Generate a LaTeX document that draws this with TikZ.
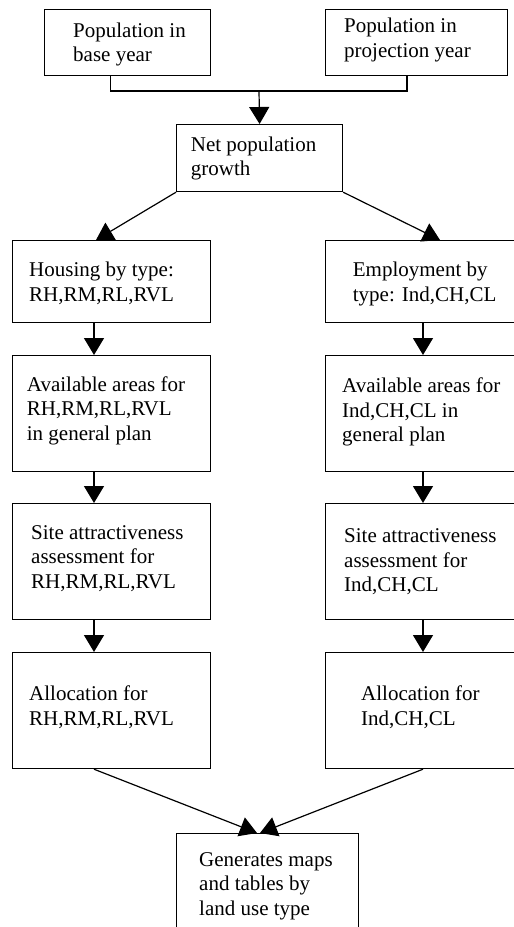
\documentclass[tikz,border=0pt]{standalone}
\usepackage{fontspec}
\setmainfont{Liberation Serif}
\usetikzlibrary{arrows.meta,calc}
\begin{document}
\begin{tikzpicture}[x=1pt,y=-1pt,
  box/.style={draw, line width=1.2pt, fill=white, inner sep=0pt, anchor=north west},
  txt/.style={inner sep=0pt, anchor=base west, align=left, font=\fontsize{21}{24.4}\selectfont},
  conn/.style={line width=1.2pt},
  arr/.style={line width=1.2pt, -{Triangle[length=17pt,width=20pt]}}]
\useasboundingbox (0,0) rectangle (514,927);
\clip (0,0) rectangle (514,927);
\fill[white] (0,0) rectangle (514,927);
% boxes
\node[box, minimum width=166pt, minimum height=66pt] (p1) at (44,9) {};
\node[box, minimum width=182pt, minimum height=66pt] (p2) at (325,9) {};
\node[box, minimum width=166pt, minimum height=67pt] (net) at (176,124) {};
\node[box, minimum width=198pt, minimum height=82pt] (hous) at (12,240) {};
\node[box, minimum width=220pt, minimum height=82pt] (emp) at (325,240) {};
\node[box, minimum width=198pt, minimum height=116pt] (avl) at (12,355) {};
\node[box, minimum width=220pt, minimum height=116pt] (avr) at (325,355) {};
\node[box, minimum width=198pt, minimum height=116pt] (sitl) at (12,503) {};
\node[box, minimum width=220pt, minimum height=116pt] (sitr) at (325,503) {};
\node[box, minimum width=198pt, minimum height=116pt] (alol) at (12,652) {};
\node[box, minimum width=220pt, minimum height=116pt] (alor) at (325,652) {};
\node[box, minimum width=182pt, minimum height=120pt] (gen) at (176,833) {};
% texts (anchored at the baseline of the last line)
\node[txt] (tp1) at (73,61.7) {Population in\\base year};
\node[txt] (tp2) at (344,57.3) {Population in\\projection year};
\node[txt] (tnet) at (190.7,175.7) {Net population\\growth};
\node[txt] (thous) at (29,301) {Housing by type:\\RH,RM,RL,RVL};
\node[txt] (temp) at (352.7,301) {Employment by\\type: Ind,CH,CL};
\node[txt] (tavl) at (26.7,440) {Available areas for\\RH,RM,RL,RVL\\in general plan};
\node[txt] (tavr) at (342,441.7) {Available areas for\\Ind,CH,CL in\\general plan};
\node[txt] (tsitl) at (31,588) {Site attractiveness\\assessment for\\RH,RM,RL,RVL};
\node[txt] (tsitr) at (344,591.7) {Site attractiveness\\assessment for\\Ind,CH,CL};
\node[txt] (talol) at (29,725) {Allocation for\\RH,RM,RL,RVL};
\node[txt] (talor) at (361,725) {Allocation for\\Ind,CH,CL};
\node[txt] (tgen) at (199,915) {Generates maps\\and tables by\\land use type};
% connectors
\coordinate (j) at (259,91);
\draw[conn] ($(p1.south west)+(66.7,0)$) |- (j) -| ($(p2.south west)+(82,0)$);
\draw[arr] (j) -- (net.north);
\draw[arr] (net.south west) -- ($(hous.north west)+(84,0)$);
\draw[arr] (net.south east) -- ($(emp.north west)+(115,0)$);
\draw[arr] ($(hous.south west)+(82,0)$) -- ($(avl.north west)+(82,0)$);
\draw[arr] ($(avl.south west)+(82,0)$) -- ($(sitl.north west)+(82,0)$);
\draw[arr] ($(sitl.south west)+(82,0)$) -- ($(alol.north west)+(82,0)$);
\draw[arr] ($(emp.south west)+(98,0)$) -- ($(avr.north west)+(98,0)$);
\draw[arr] ($(avr.south west)+(98,0)$) -- ($(sitr.north west)+(98,0)$);
\draw[arr] ($(sitr.south west)+(98,0)$) -- ($(alor.north west)+(98,0)$);
\draw[arr] ($(alol.south west)+(82,0)$) -- ($(gen.north west)+(81,0)$);
\draw[arr] ($(alor.south west)+(98,0)$) -- ($(gen.north west)+(84,0)$);
\end{tikzpicture}
\end{document}
